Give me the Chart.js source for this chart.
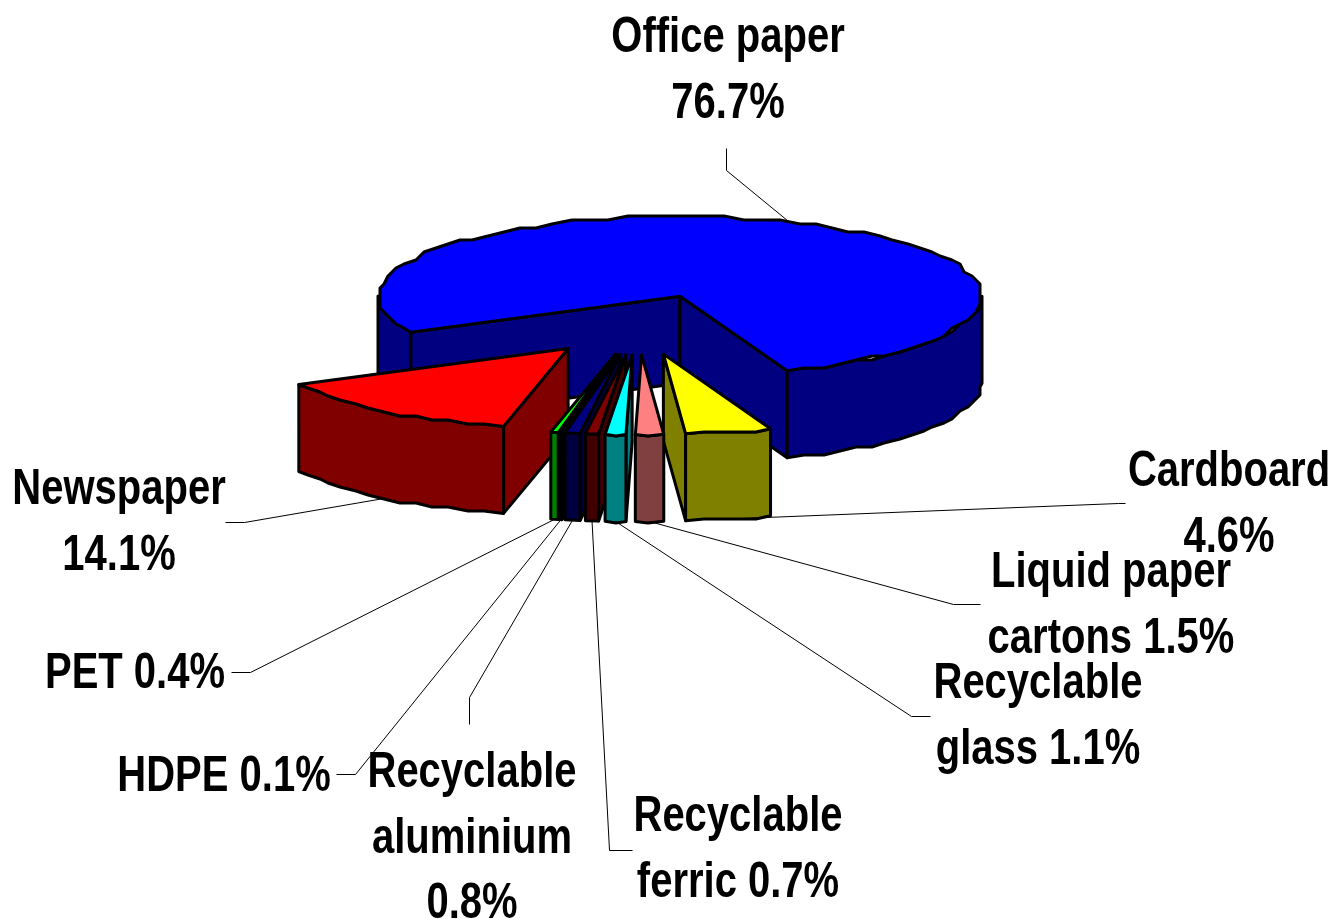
<!DOCTYPE html>
<html>
<head>
<meta charset="utf-8">
<title>Recycling pie</title>
<style>
  html, body { margin: 0; padding: 0; background: #fff; overflow: hidden; }
  canvas { display: block; }
</style>
<script src="https://cdn.jsdelivr.net/npm/chart.js@4/dist/chart.umd.js"></script>
</head>
<body>
<canvas id="myChart" width="1335" height="919"></canvas>
<script>
const categories = ['Office paper', 'Cardboard', 'Liquid paper cartons', 'Recyclable glass',
  'Recyclable ferric', 'Recyclable aluminium', 'HDPE', 'PET', 'Newspaper'];
const shares = [76.7, 4.6, 1.5, 1.1, 0.7, 0.8, 0.1, 0.4, 14.1];
const topColors = ['#0000ff', '#ffff00', '#ff8080', '#00ffff', '#800000', '#000080', '#000000', '#00ff00', '#ff0000'];
const wallColors = ['#000080', '#808000', '#804040', '#008080', '#400000', '#000040', '#000000', '#008000', '#800000'];

// text lines of each callout, same order as categories
const labelLines = [
  ['Office paper', '76.7%'],
  ['Cardboard', '4.6%'],
  ['Liquid paper', 'cartons 1.5%'],
  ['Recyclable', 'glass 1.1%'],
  ['Recyclable', 'ferric 0.7%'],
  ['Recyclable', 'aluminium', '0.8%'],
  ['HDPE 0.1%'],
  ['PET 0.4%'],
  ['Newspaper', '14.1%']
];
// centre x and first baseline of each callout
const labelPos = [[728, 52], [1229, 486], [1111, 587], [1038, 698], [738, 831], [472, 787], [224, 791], [135, 688], [119, 504]];
const labelStep = 65.5;
// elbow + end of each leader line, the start comes from the slice
const leaderEnds = [
  [[726, 170], [726, 148]],
  [[1118, 503], [1125, 503]],
  [[953, 604], [980, 604]],
  [[911, 716], [930, 716]],
  [[609, 850], [632, 850]],
  [[469, 697], [469, 724]],
  [[355, 774], [336, 774]],
  [[250, 672], [231, 672]],
  [[244, 522], [225, 522]]
];

const squash = 0.264;
const depth = 87;
const textScale = 0.8;

function sliceShape(arc) {
  const a0 = arc.startAngle, a1 = arc.endAngle, mid = (a0 + a1) / 2;
  const off = arc.options.offset;
  return {
    a0: a0, a1: a1, mid: mid, r: arc.outerRadius,
    x: arc.x + Math.cos(mid) * off,
    y: arc.y + Math.sin(mid) * off * squash
  };
}

// rim as a coarse polyline snapped to a small grid, the old metafile look
function rimPoints(s, from, to) {
  const n = Math.max(1, Math.ceil((to - from) / 0.065));
  const pts = [];
  for (let i = 0; i <= n; i++) {
    const a = from + (to - from) * i / n;
    let px = s.x + Math.cos(a) * s.r, py = s.y + Math.sin(a) * s.r * squash;
    if (i > 0 && i < n) {
      px = Math.round(px / 4) * 4;
      py = Math.round(py / 4) * 4;
    }
    pts.push([px, py]);
  }
  return pts;
}

function cutFace(ctx, s, a) {
  const ex = s.x + Math.cos(a) * s.r, ey = s.y + Math.sin(a) * s.r * squash;
  ctx.beginPath();
  ctx.moveTo(s.x, s.y);
  ctx.lineTo(ex, ey);
  ctx.lineTo(ex, ey + depth);
  ctx.lineTo(s.x, s.y + depth);
  ctx.closePath();
  ctx.fill();
  ctx.stroke();
}

function outerWall(ctx, s) {
  // only the part of the rim that faces the viewer, between 0 and 180 deg
  for (let k = 0; k < 2; k++) {
    const from = Math.max(s.a0, k * 2 * Math.PI);
    const to = Math.min(s.a1, k * 2 * Math.PI + Math.PI);
    if (to <= from) continue;
    const pts = rimPoints(s, from, to);
    ctx.beginPath();
    pts.forEach(p => ctx.lineTo(p[0], p[1]));
    pts.reverse().forEach(p => ctx.lineTo(p[0], p[1] + depth));
    ctx.closePath();
    ctx.fill();
    ctx.stroke();
  }
}

const pie3d = {
  id: 'pie3d',
  beforeDatasetsDraw(chart) {
    const ctx = chart.ctx;
    const arcs = chart.getDatasetMeta(0).data;
    const order = arcs.map((arc, i) => i).sort((p, q) =>
      Math.sin((arcs[p].startAngle + arcs[p].endAngle) / 2) - Math.sin((arcs[q].startAngle + arcs[q].endAngle) / 2));
    ctx.save();
    ctx.lineWidth = 3;
    ctx.strokeStyle = '#000';
    ctx.lineJoin = 'round';
    order.forEach(i => {
      const s = sliceShape(arcs[i]);
      ctx.fillStyle = wallColors[i];
      if (Math.cos(s.a0) < 0) cutFace(ctx, s, s.a0);
      if (Math.cos(s.a1) > 0) cutFace(ctx, s, s.a1);
      outerWall(ctx, s);
      ctx.fillStyle = topColors[i];
      ctx.beginPath();
      ctx.moveTo(s.x, s.y);
      rimPoints(s, s.a0, s.a1).forEach(p => ctx.lineTo(p[0], p[1]));
      ctx.closePath();
      ctx.fill();
      ctx.stroke();
    });
    ctx.restore();
    return false;
  },
  afterDraw(chart) {
    const ctx = chart.ctx;
    const arcs = chart.getDatasetMeta(0).data;
    ctx.save();
    // leaders
    ctx.lineWidth = 1;
    ctx.strokeStyle = '#000';
    arcs.forEach((arc, i) => {
      const s = sliceShape(arc);
      const front = Math.sin(s.mid) > 0;
      ctx.beginPath();
      ctx.moveTo(s.x + Math.cos(s.mid) * s.r, s.y + Math.sin(s.mid) * s.r * squash + (front ? depth : 0));
      leaderEnds[i].forEach(p => ctx.lineTo(p[0] + 0.5, p[1] + 0.5));
      ctx.stroke();
    });
    // labels, squeezed sideways like the original narrow type
    ctx.fillStyle = '#000';
    ctx.textAlign = 'center';
    ctx.textBaseline = 'alphabetic';
    ctx.font = 'bold 50px "Liberation Sans", sans-serif';
    labelLines.forEach((lines, i) => {
      lines.forEach((t, j) => {
        ctx.save();
        ctx.translate(labelPos[i][0], labelPos[i][1] + j * labelStep);
        ctx.scale(textScale, 1);
        ctx.fillText(t, 0, 0);
        ctx.restore();
      });
    });
    ctx.restore();
  }
};

new Chart(document.getElementById('myChart').getContext('2d'), {
  type: 'pie',
  data: {
    labels: categories,
    datasets: [{
      data: shares,
      backgroundColor: topColors,
      borderColor: '#000',
      borderWidth: 3,
      offset: 115
    }]
  },
  options: {
    responsive: false,
    animation: false,
    rotation: 243.1,
    radius: 302,
    layout: { padding: { left: 0, top: 0, right: 58, bottom: 270 } },
    plugins: { legend: { display: false }, tooltip: { enabled: false } }
  },
  plugins: [pie3d]
});
</script>
</body>
</html>
